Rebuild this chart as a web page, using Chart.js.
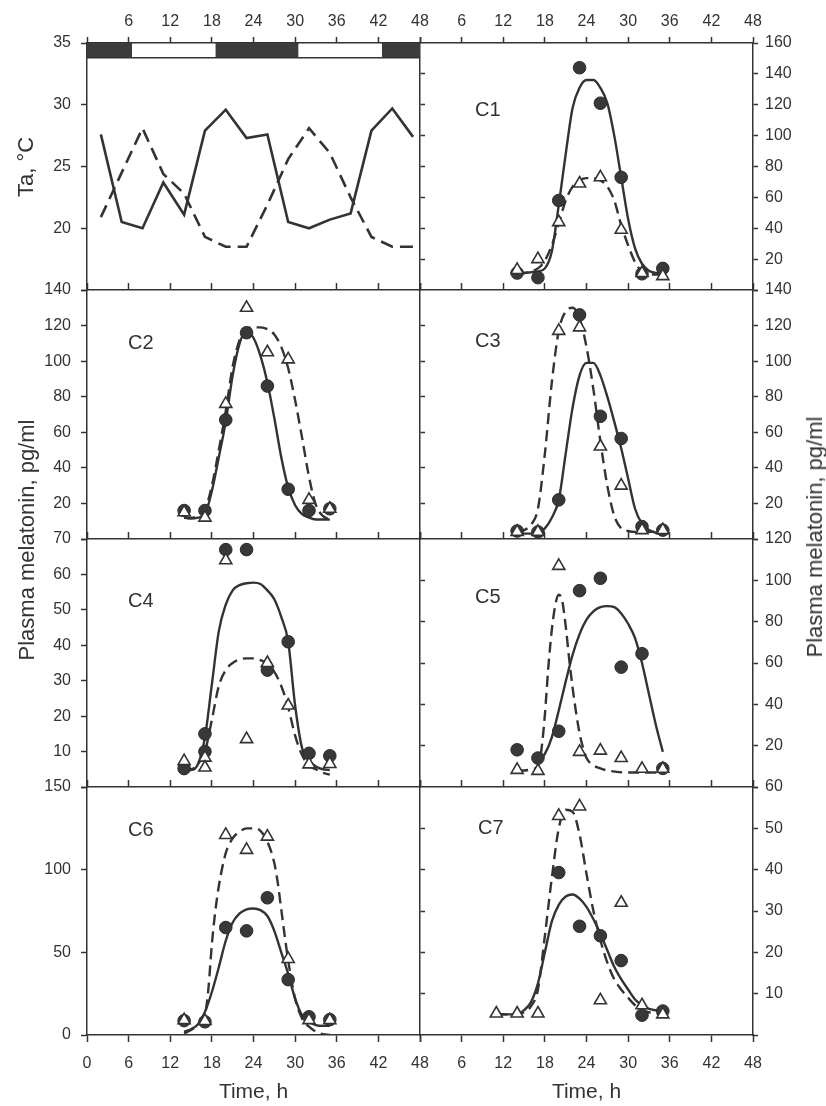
<!DOCTYPE html>
<html>
<head>
<meta charset="utf-8">
<script src="https://cdn.jsdelivr.net/npm/chart.js@4.4.0/dist/chart.umd.min.js"></script>
<style>
  body { margin: 0; background: #fff; }
  #page { position: relative; width: 826px; height: 1106px; overflow: hidden; font-family: "Liberation Sans", Arial, sans-serif; color: #333; }
  #page canvas { position: absolute; left: 0; top: 0; }
  .vt { position: absolute; transform: translate(-50%, -50%) rotate(-90deg); white-space: nowrap; font-size: 22px; line-height: 22px; }
</style>
</head>
<body>
<div id="page">
  <canvas id="p0" width="826" height="1106"></canvas>
  <canvas id="p1" width="826" height="1106"></canvas>
  <canvas id="p2" width="826" height="1106"></canvas>
  <canvas id="p3" width="826" height="1106"></canvas>
  <canvas id="p4" width="826" height="1106"></canvas>
  <canvas id="p5" width="826" height="1106"></canvas>
  <canvas id="p6" width="826" height="1106"></canvas>
  <canvas id="p7" width="826" height="1106"></canvas>
  <div class="vt" style="left:26px;top:167px">Ta, °C</div>
  <div class="vt" style="left:27px;top:540px">Plasma melatonin, pg/ml</div>
  <div class="vt" style="left:815px;top:537px">Plasma melatonin, pg/ml</div>
</div>
<script>
// ---- data ----
const timeTicks = [0, 6, 12, 18, 24, 30, 36, 42, 48];
const taTicks = [15, 20, 25, 30, 35];
const c1Ticks = [0, 20, 40, 60, 80, 100, 120, 140, 160];
const c2Ticks = [0, 20, 40, 60, 80, 100, 120, 140];
const c3Ticks = [0, 20, 40, 60, 80, 100, 120, 140];
const c4Ticks = [0, 10, 20, 30, 40, 50, 60, 70];
const c5Ticks = [0, 20, 40, 60, 80, 100, 120];
const c6Ticks = [0, 50, 100, 150];
const c7Ticks = [0, 10, 20, 30, 40, 50, 60];

// ambient temperature
const taHours = [2, 5, 8, 11, 14, 17, 20, 23, 26, 29, 32, 35, 38, 41, 44, 47];
const taSolid = [27.6, 20.5, 20.0, 23.7, 21.1, 27.9, 29.6, 27.3, 27.6, 20.5, 20.0, 20.7, 21.2, 27.9, 29.7, 27.4];
const taDashed = [20.9, 24.5, 28.1, 24.4, 22.8, 19.3, 18.5, 18.5, 21.9, 25.6, 28.1, 26.1, 22.5, 19.3, 18.5, 18.5];
const darkPeriods = [[0, 6.5], [18.5, 30.5], [42.5, 48]];

// blood sampling times and fitted curves
const sampleHours = [14, 17, 20, 23, 26, 29, 32, 35];
const fitHours = [14, 15, 16, 17, 18, 19, 20, 21, 22, 23, 24, 25, 26, 27, 28, 29, 30, 31, 32, 33, 34, 35];

const c1Circles = [11, 8, 58, 144, 121, 73, 10.5, 14];
const c1Triangles = [13, 20, 44, 69, 73, 39, 11, 9];
const c1Solid = [11, 11, 11.5, 12, 14, 25, 55, 88, 118, 131, 136, 136, 131, 121, 100, 73, 46, 27, 17, 12.5, 11, 10.5];
const c1Dashed = [11, 11, 12, 14, 19, 29, 43, 58, 67, 71, 72.5, 72.5, 71, 67, 58, 42, 29, 18, 12, 10, 10, 10];

const c2Circles = [16, 16, 67, 116, 86, 28, 16, 17];
const c2Triangles = [15, 12, 76, 130, 105, 101, 22, 17];
const c2Solid = [12, 11.5, 12, 14, 27, 46, 66, 92, 110, 117, 113, 103, 88, 68, 46, 29, 19, 14, 12, 11, 11, 11];
const c2Dashed = [12, 12, 13, 16, 30, 50, 72, 97, 112, 118, 119, 119, 118, 115, 108, 96, 78, 57, 35, 19, 13, 11];

const c3Circles = [4.5, 4, 22, 126, 69, 56.5, 7, 5];
const c3Triangles = [4, 4, 117, 119, 52, 30, 5, 5];
const c3Solid = [3, 3, 3, 3.5, 6, 12, 22, 48, 74, 92, 99, 99, 92, 80, 66, 51, 34, 17, 8.5, 5, 3.5, 3];
const c3Dashed = [4, 5, 8, 17, 48, 88, 117, 128, 130, 124, 108, 84, 55, 30, 13, 6, 4.5, 4, 4, 4, 4, 4];

const c4CircleHours = [14, 17, 17, 20, 23, 26, 29, 32, 35];
const c4Circles = [5.2, 15, 10, 67, 67, 33, 41, 9.5, 8.8];
const c4TriangleHours = [14, 17, 17, 20, 23, 26, 29, 32, 35];
const c4Triangles = [7.3, 8.3, 5.5, 64, 13.5, 35, 23, 6.4, 6.5];
const c4Solid = [5.5, 4.8, 6.5, 14, 29, 44, 51.5, 55.5, 57, 57.5, 57.7, 57.3, 55.5, 53, 48, 41, 23, 11, 7.5, 5.8, 5, 4.8];
const c4Dashed = [5.5, 5, 6.5, 10, 19, 28.5, 33, 35, 36, 36.3, 36.3, 35.8, 34.8, 32.5, 28.5, 22.5, 14.5, 9, 6, 5, 4, 3.5];

const c5Circles = [18, 14, 27, 95, 101, 58, 64.5, 9];
const c5Triangles = [8.3, 7.8, 107, 17, 17.6, 14, 8.8, 8.8];
const c5SolidHours = [17, 18, 19, 20, 21, 22, 23, 24, 25, 26, 27, 28, 29, 30, 31, 32, 33, 34, 35];
const c5Solid = [12, 16, 24, 37, 51, 64, 74, 81, 85, 87, 87.5, 87, 84, 79, 72, 60, 45, 30, 17];
const c5DashedHours = [14, 15, 16, 17, 17.5, 18, 18.5, 19, 19.5, 20, 20.5, 21, 21.5, 22, 22.5, 23, 23.5, 24, 25, 26, 27, 30, 35];
const c5Dashed = [8, 8, 8.5, 10, 18, 35, 58, 76, 88, 93, 90, 78, 62, 48, 36, 26, 19, 14, 10.5, 9, 8, 7, 7];

const c6Circles = [8.7, 8, 65, 63, 83, 33.5, 11, 9.3];
const c6Triangles = [9, 8.5, 121, 112, 120, 46, 9, 9];
const c6Solid = [2, 3.5, 6.5, 14, 26, 41, 57, 68, 73.5, 76, 76.5, 75.5, 72, 63, 50, 37, 22, 12, 8, 6, 5.5, 5.5];
const c6DashedHours = [14, 15, 16, 17, 17.5, 18, 18.5, 19, 20, 21, 22, 23, 24, 25, 26, 27, 27.5, 28, 28.5, 29, 30, 31, 32, 33, 34, 35];
const c6Dashed = [1, 3, 6, 12, 28, 55, 75, 90, 110, 119, 123, 125, 125, 123.5, 117, 104, 92, 76, 60, 45, 22, 10, 5, 2, 0.5, 0];

const c7TriangleHours = [11, 14, 17, 20, 23, 26, 29, 32, 35];
const c7Triangles = [5.2, 5.2, 5.2, 53, 55.3, 8.4, 32, 7.2, 5];
const c7CircleHours = [20, 23, 26, 29, 32, 35];
const c7Circles = [39.3, 26.3, 24, 18, 4.8, 5.8];
const c7FitHours = [11, 12, 13, 14, 15, 16, 17, 18, 19, 20, 21, 22, 23, 24, 25, 26, 27, 28, 29, 30, 31, 32, 33, 34, 35];
const c7Solid = [5, 5, 5, 5, 6, 8, 12.5, 20, 27.5, 31.5, 33.5, 34, 33, 31, 28, 24.5, 20.5, 16.5, 13.5, 11, 8.6, 7.2, 6.3, 6, 5.8];
const c7Dashed = [5, 5, 5, 5, 5.5, 7, 11, 24, 38, 50, 54.5, 54, 48.5, 39, 30, 23, 17.5, 13.5, 11, 9, 7.2, 6, 5.5, 5.2, 5];

// ---- drawing ----
const W = 826, H = 1106;
const colX = { left: [87, 420], right: [420, 753] };
const rowY = [[43, 290], [290, 539], [539, 787], [787, 1035]];
const ink = '#333';
const fontFamily = '"Liberation Sans", Arial, sans-serif';
const tickFont = { family: fontFamily, size: 16 };
const last = a => a[a.length - 1];

const panelTag = {
  id: 'panelTag',
  afterDatasetsDraw(chart, args, opts) {
    if (!opts.text) return;
    const { ctx, chartArea } = chart;
    ctx.save();
    ctx.font = '20px ' + fontFamily;
    ctx.fillStyle = ink;
    ctx.textBaseline = 'middle';
    ctx.fillText(opts.text, chartArea.left + opts.dx, chartArea.top + opts.dy);
    ctx.restore();
  }
};
Chart.register(panelTag);

function pts(xs, ys) { return xs.map((x, i) => ({ x: x, y: ys[i] })); }

function fit(xs, ys, dashed) {
  return {
    data: pts(xs, ys), showLine: true, borderColor: ink, borderWidth: 2.4,
    borderDash: dashed ? [11, 6] : [], pointRadius: 0, cubicInterpolationMode: 'monotone',
    order: dashed ? 3 : 2
  };
}
function dots(xs, ys) {
  return { data: pts(xs, ys), pointStyle: 'circle', pointRadius: 6.3, backgroundColor: '#383838', borderColor: '#2b2b2b', borderWidth: 1, order: 1 };
}
function tris(xs, ys) {
  return { data: pts(xs, ys), pointStyle: 'triangle', pointRadius: 7, backgroundColor: '#fff', borderColor: ink, borderWidth: 1.6, order: 0 };
}
function tempLine(ys, dashed) {
  return {
    data: pts(taHours, ys), showLine: true, borderColor: ink, borderWidth: 2.6,
    borderDash: dashed ? [13, 7] : [], pointRadius: 0, tension: 0, order: dashed ? 3 : 2
  };
}
function setTicks(values) {
  return scale => { scale.ticks = values.map(v => ({ value: v })); };
}

function makePanel(p) {
  const [L, R] = colX[p.col];
  const [T, B] = rowY[p.row];
  const isLeft = p.col === 'left';
  const topH = p.row === 0 ? 43 : 7;
  const botH = p.row === 3 ? H - B : 0;
  const leftW = isLeft ? L : 0;
  const rightW = isLeft ? 5 : W - R;
  const border = { display: true, color: ink, width: 1.5 };
  const grid = len => ({ drawOnChartArea: false, drawTicks: true, tickLength: len, tickWidth: 1.5, tickColor: ink });

  const scales = {
    x: {
      type: 'linear', position: 'top', min: timeTicks[0], max: last(timeTicks),
      afterBuildTicks: setTicks(timeTicks),
      afterFit: s => { s.height = topH; },
      grid: grid(p.row === 0 ? 6 : 7), border: border,
      ticks: { display: p.row === 0, padding: 6, color: ink, font: tickFont, maxRotation: 0, autoSkip: false,
               callback: v => v === 0 ? '' : v }
    },
    y: {
      type: 'linear', position: isLeft ? 'left' : 'right', min: p.ticks[0], max: last(p.ticks),
      afterBuildTicks: setTicks(p.ticks),
      afterFit: s => { s.width = isLeft ? leftW : rightW; },
      grid: grid(isLeft ? 6 : 5), border: border,
      ticks: { padding: isLeft ? 10 : 7, color: ink, font: tickFont, autoSkip: false,
               callback: v => (v === p.ticks[0] && !p.zeroLabel) ? '' : v }
    }
  };
  if (isLeft) {
    // ticks of the neighbouring right-hand panel, drawn on the shared border
    scales.yr = {
      type: 'linear', position: 'right', min: p.partner[0], max: last(p.partner),
      afterBuildTicks: setTicks(p.partner),
      afterFit: s => { s.width = rightW; },
      grid: { drawOnChartArea: false, drawTicks: true, tickLength: 5, tickWidth: 1.5,
              tickColor: c => (c.tick && (c.tick.value === p.partner[0] || c.tick.value === last(p.partner))) ? 'rgba(0,0,0,0)' : ink },
      border: border, ticks: { display: false }
    };
  }
  if (p.row === 3) {
    scales.xb = {
      type: 'linear', position: 'bottom', min: timeTicks[0], max: last(timeTicks),
      afterBuildTicks: setTicks(timeTicks),
      afterFit: s => { s.height = botH; },
      grid: grid(7), border: border,
      ticks: { padding: 12, color: ink, font: tickFont, maxRotation: 0, autoSkip: false,
               callback: v => (v === 0 && !isLeft) ? '' : v },
      title: { display: true, text: 'Time, h', color: ink, font: { family: fontFamily, size: 21 }, padding: { top: 0, bottom: 1 } }
    };
  }
  return new Chart(document.getElementById(p.id), {
    type: 'scatter',
    data: { datasets: p.datasets },
    options: {
      responsive: false, animation: false, events: [],
      layout: { padding: { left: L - leftW, right: W - R - rightW, top: T - topH, bottom: H - B - botH } },
      plugins: { legend: { display: false }, tooltip: { enabled: false }, panelTag: p.tag || {} },
      scales: scales
    }
  });
}

const barBottom = 33.8, barTop = 35;
const taDatasets = [tempLine(taSolid, false), tempLine(taDashed, true)]
  .concat(darkPeriods.map(([a, b]) => ({
    data: [{ x: a, y: barTop }, { x: b, y: barTop }], showLine: true, borderColor: '#3c3c3c', borderWidth: 1,
    pointRadius: 0, fill: { value: barBottom }, backgroundColor: '#3c3c3c', order: 5
  })))
  .concat([{ data: [{ x: 0, y: barBottom }, { x: 48, y: barBottom }], showLine: true, borderColor: ink, borderWidth: 1.5, pointRadius: 0, order: 4 }]);

const panels = [
  { id: 'p0', col: 'left', row: 0, ticks: taTicks, partner: c1Ticks, datasets: taDatasets },
  { id: 'p1', col: 'right', row: 0, ticks: c1Ticks, tag: { text: 'C1', dx: 55, dy: 67 },
    datasets: [tris(sampleHours, c1Triangles), dots(sampleHours, c1Circles), fit(fitHours, c1Solid, false), fit(fitHours, c1Dashed, true)] },
  { id: 'p2', col: 'left', row: 1, ticks: c2Ticks, partner: c3Ticks, tag: { text: 'C2', dx: 41, dy: 53 },
    datasets: [tris(sampleHours, c2Triangles), dots(sampleHours, c2Circles), fit(fitHours, c2Solid, false), fit(fitHours, c2Dashed, true)] },
  { id: 'p3', col: 'right', row: 1, ticks: c3Ticks, tag: { text: 'C3', dx: 55, dy: 51 },
    datasets: [tris(sampleHours, c3Triangles), dots(sampleHours, c3Circles), fit(fitHours, c3Solid, false), fit(fitHours, c3Dashed, true)] },
  { id: 'p4', col: 'left', row: 2, ticks: c4Ticks, partner: c5Ticks, tag: { text: 'C4', dx: 41, dy: 62 },
    datasets: [tris(c4TriangleHours, c4Triangles), dots(c4CircleHours, c4Circles), fit(fitHours, c4Solid, false), fit(fitHours, c4Dashed, true)] },
  { id: 'p5', col: 'right', row: 2, ticks: c5Ticks, tag: { text: 'C5', dx: 55, dy: 58 },
    datasets: [tris(sampleHours, c5Triangles), dots(sampleHours, c5Circles), fit(c5SolidHours, c5Solid, false), fit(c5DashedHours, c5Dashed, true)] },
  { id: 'p6', col: 'left', row: 3, ticks: c6Ticks, partner: c7Ticks, zeroLabel: true, tag: { text: 'C6', dx: 41, dy: 43 },
    datasets: [tris(sampleHours, c6Triangles), dots(sampleHours, c6Circles), fit(fitHours, c6Solid, false), fit(c6DashedHours, c6Dashed, true)] },
  { id: 'p7', col: 'right', row: 3, ticks: c7Ticks, tag: { text: 'C7', dx: 58, dy: 41 },
    datasets: [tris(c7TriangleHours, c7Triangles), dots(c7CircleHours, c7Circles), fit(c7FitHours, c7Solid, false), fit(c7FitHours, c7Dashed, true)] }
];

panels.forEach(makePanel);
</script>
</body>
</html>
